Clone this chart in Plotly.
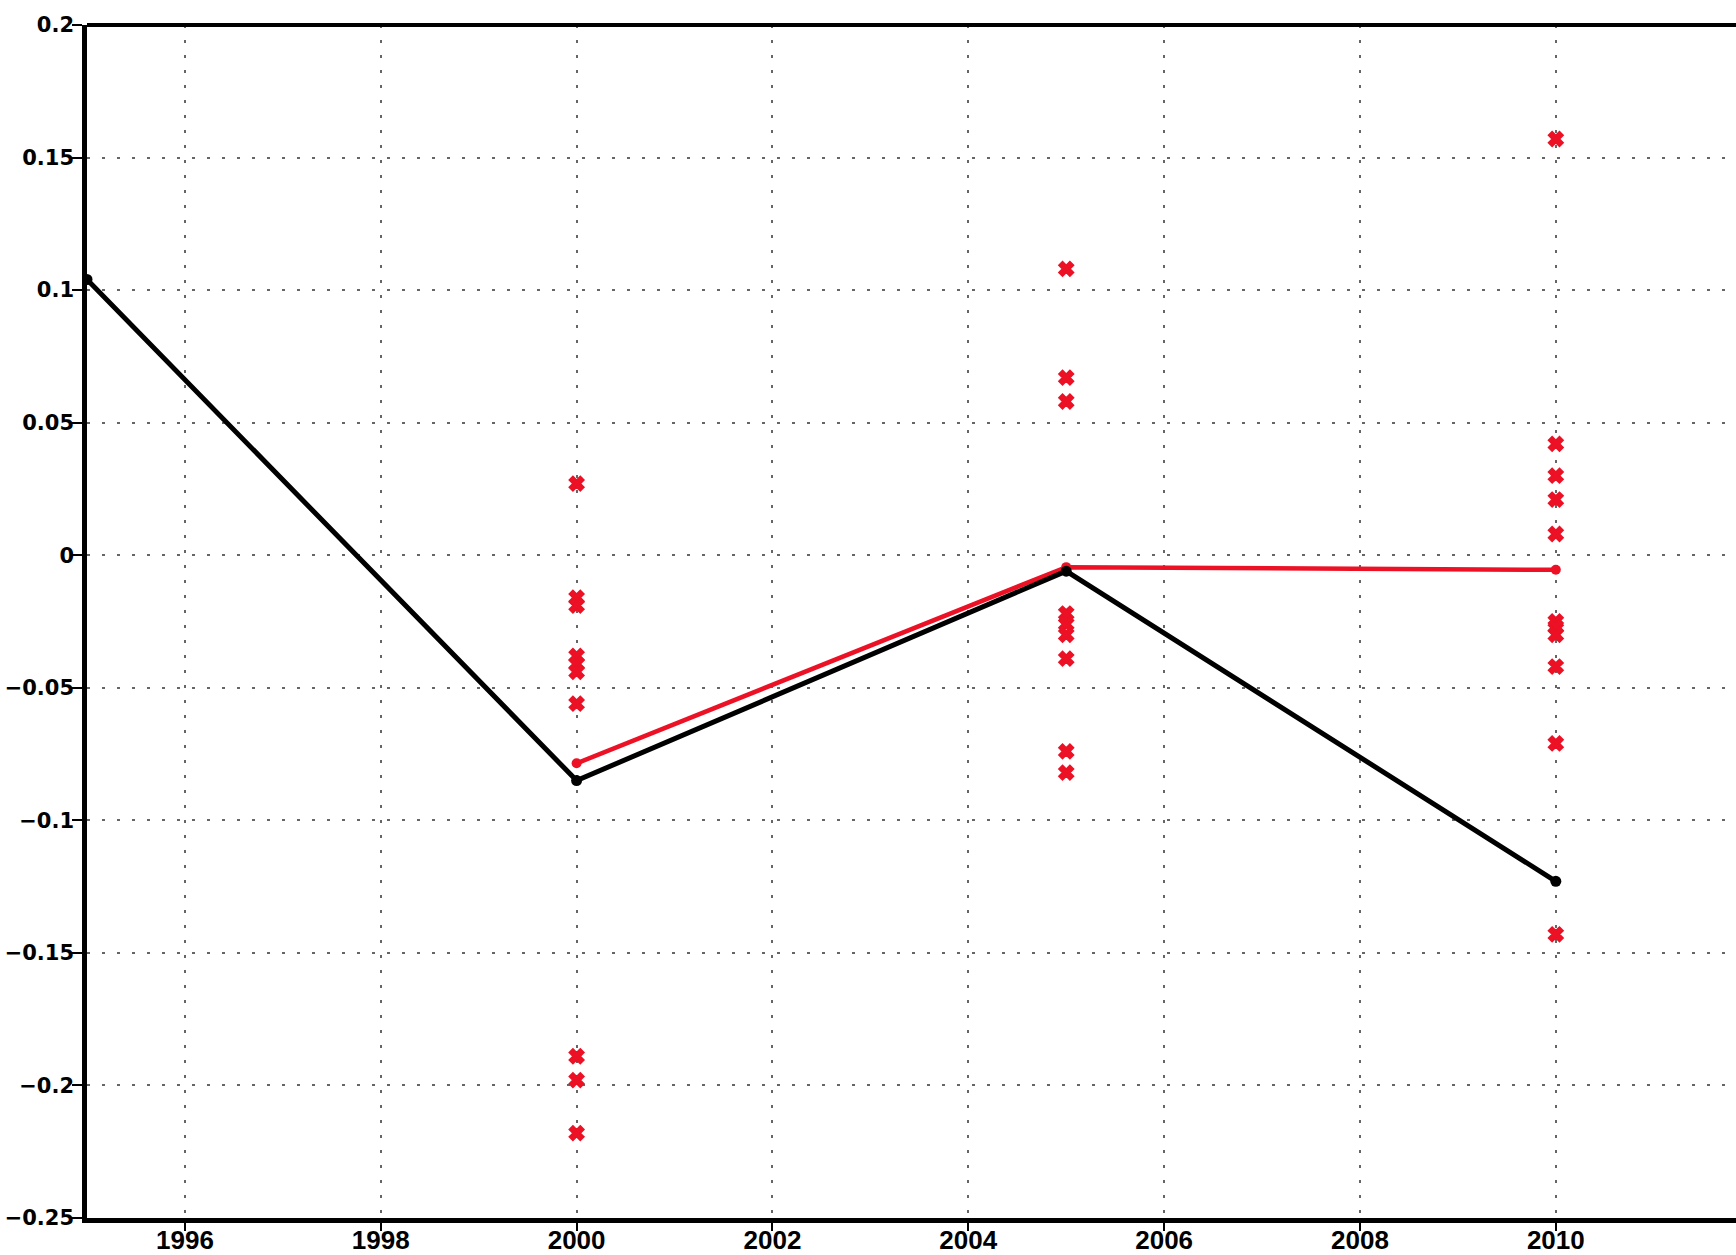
import plotly.graph_objects as go

# Ensemble-mean and reference series
black_years = [1995, 2000, 2005, 2010]
black_vals = [0.104, -0.085, -0.006, -0.123]

red_years = [2000, 2005, 2010]
red_vals = [-0.0785, -0.0045, -0.0055]

# Individual members at each epoch
members_2000 = [0.027, -0.016, -0.019, -0.038, -0.041, -0.044, -0.056, -0.189, -0.198, -0.218]
members_2005 = [0.108, 0.067, 0.058, -0.022, -0.026, -0.030, -0.039, -0.074, -0.082]
members_2010 = [0.157, 0.042, 0.030, 0.021, 0.008, -0.025, -0.027, -0.030, -0.042, -0.071, -0.143]

x_tickvals = [1996, 1998, 2000, 2002, 2004, 2006, 2008, 2010]
x_ticktext = ["1996", "1998", "2000", "2002", "2004", "2006", "2008", "2010"]
y_tickvals = [0.2, 0.15, 0.1, 0.05, 0, -0.05, -0.1, -0.15, -0.2, -0.25]
y_ticktext = ["0.2", "0.15", "0.1", "0.05", "0", "\u22120.05", "\u22120.1", "\u22120.15", "\u22120.2", "\u22120.25"]

RED = "#ec1125"

fig = go.Figure()

mx = [2000] * len(members_2000) + [2005] * len(members_2005) + [2010] * len(members_2010)
my = members_2000 + members_2005 + members_2010
fig.add_trace(go.Scatter(
    x=mx, y=my, mode="markers",
    marker=dict(symbol="x", size=13, color=RED, line=dict(color=RED, width=1.5)),
    showlegend=False,
))

fig.add_trace(go.Scatter(
    x=red_years, y=red_vals, mode="lines+markers",
    line=dict(color=RED, width=4.5),
    marker=dict(symbol="circle", size=10, color=RED),
    showlegend=False,
))

fig.add_trace(go.Scatter(
    x=black_years, y=black_vals, mode="lines+markers",
    line=dict(color="black", width=5),
    marker=dict(symbol="circle", size=11, color="black"),
    showlegend=False,
))

grid_style = dict(showgrid=True, gridcolor="#666666", gridwidth=2, griddash="3px,12px")

fig.update_xaxes(
    range=[1995, 2011.84], automargin=False,
    tickmode="array", tickvals=x_tickvals, ticktext=x_ticktext,
    ticks="outside", ticklen=8, tickwidth=2, tickcolor="black",
    ticklabelstandoff=-13,
    showline=True, linecolor="black", linewidth=4.5,
    zeroline=False,
    tickfont=dict(family="Liberation Sans", size=26, color="black", weight="bold"),
    **grid_style,
)
fig.update_yaxes(
    range=[-0.25, 0.2], automargin=False,
    tickmode="array", tickvals=y_tickvals, ticktext=y_ticktext,
    ticks="outside", ticklen=10, tickwidth=2, tickcolor="black",
    ticklabelstandoff=-6,
    showline=True, linecolor="black", linewidth=4.5,
    zeroline=False,
    tickfont=dict(family="DejaVu Sans", size=21, color="black", weight="bold"),
    **grid_style,
)

# Top frame edge
fig.add_shape(type="line", xref="paper", yref="paper", x0=0, x1=1, y0=1, y1=1,
              line=dict(color="black", width=4))

fig.update_layout(
    width=1736, height=1255,
    margin=dict(l=87, r=0, t=25, b=37),
    paper_bgcolor="white", plot_bgcolor="white",
)

fig.write_html("out.html")
